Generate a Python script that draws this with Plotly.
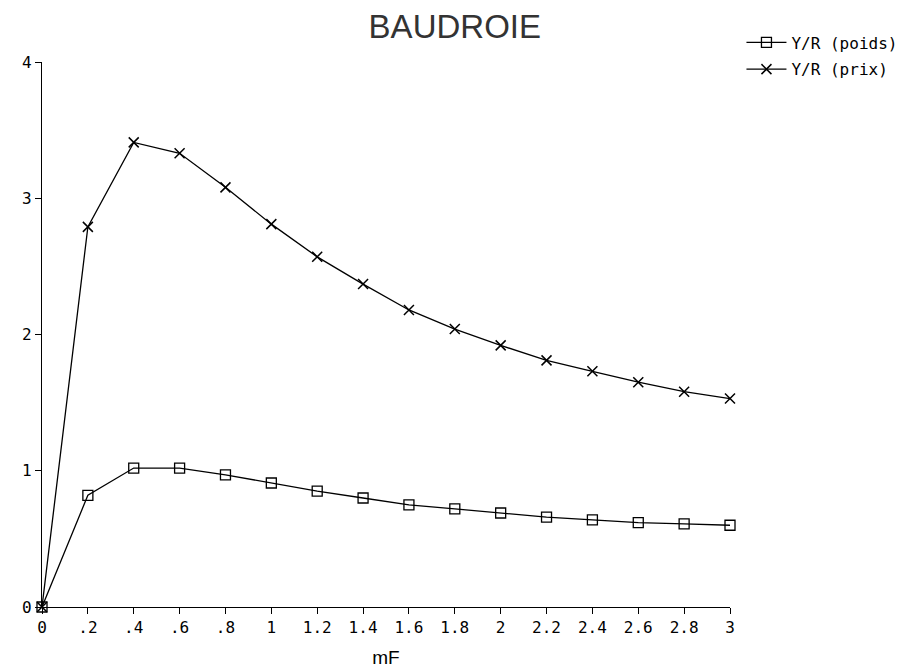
import plotly.graph_objects as go

# --- données ---
mF = [0, 0.2, 0.4, 0.6, 0.8, 1.0, 1.2, 1.4, 1.6, 1.8, 2.0, 2.2, 2.4, 2.6, 2.8, 3.0]
yr_poids = [0, 0.82, 1.02, 1.02, 0.97, 0.91, 0.85, 0.80, 0.75, 0.72, 0.69, 0.66, 0.64, 0.62, 0.61, 0.60]
yr_prix = [0, 2.79, 3.41, 3.33, 3.08, 2.81, 2.57, 2.37, 2.18, 2.04, 1.92, 1.81, 1.73, 1.65, 1.58, 1.53]

x_ticks = [0, 0.2, 0.4, 0.6, 0.8, 1.0, 1.2, 1.4, 1.6, 1.8, 2.0, 2.2, 2.4, 2.6, 2.8, 3.0]
x_labels = ["0", ".2", ".4", ".6", ".8", "1", "1.2", "1.4", "1.6", "1.8", "2", "2.2", "2.4", "2.6", "2.8", "3"]
y_ticks = [0, 1, 2, 3, 4]

FONT = "Liberation Sans"
MONO = "DejaVu Sans Mono"

fig = go.Figure()
fig.add_trace(go.Scatter(
    x=mF, y=yr_poids, name="Y/R (poids)", mode="lines+markers", legendgroup="a",
    line=dict(color="black", width=1.3),
    marker=dict(symbol="square-open", size=10, color="black", line=dict(width=1.3)),
    cliponaxis=False,
))
fig.add_trace(go.Scatter(
    x=mF, y=yr_prix, name="Y/R (prix)", mode="lines+markers", legendgroup="b",
    line=dict(color="black", width=1.3),
    marker=dict(symbol="x-thin-open", size=10, color="black", line=dict(width=1.5)),
    cliponaxis=False,
))

fig.update_layout(
    width=910, height=671,
    paper_bgcolor="white", plot_bgcolor="white",
    margin=dict(l=34, r=188, t=54, b=72, autoexpand=False),
    font=dict(family=MONO, color="black", size=16),
    title=dict(text="BAUDROIE", x=0.491, xanchor="center", y=0.972, yanchor="middle",
               font=dict(size=33, family=FONT, color="#333")),
    legend=dict(xref="container", yref="container", x=0.806, xanchor="left",
                y=0.974, yanchor="top",
                font=dict(size=16, family=MONO), bgcolor="rgba(0,0,0,0)",
                traceorder="grouped", tracegroupgap=3, itemwidth=40),
    showlegend=True,
)
fig.update_xaxes(
    range=[0, 3], tickvals=x_ticks, ticktext=x_labels, automargin=False,
    showgrid=False, zeroline=False, showline=True, linecolor="black", linewidth=1.3,
    ticks="outside", ticklen=6, tickcolor="black", tickwidth=1.3,
    tickfont=dict(size=16, family=MONO),
    title=dict(text="mF", font=dict(size=19, family=FONT), standoff=14),
)
fig.update_yaxes(
    range=[0, 4], tickvals=y_ticks, automargin=False,
    showgrid=False, zeroline=False, showline=True, linecolor="black", linewidth=1.3,
    ticks="outside", ticklen=6, tickcolor="black", tickwidth=1.3,
    tickfont=dict(size=16, family=MONO),
)

fig.write_html("out.html")
